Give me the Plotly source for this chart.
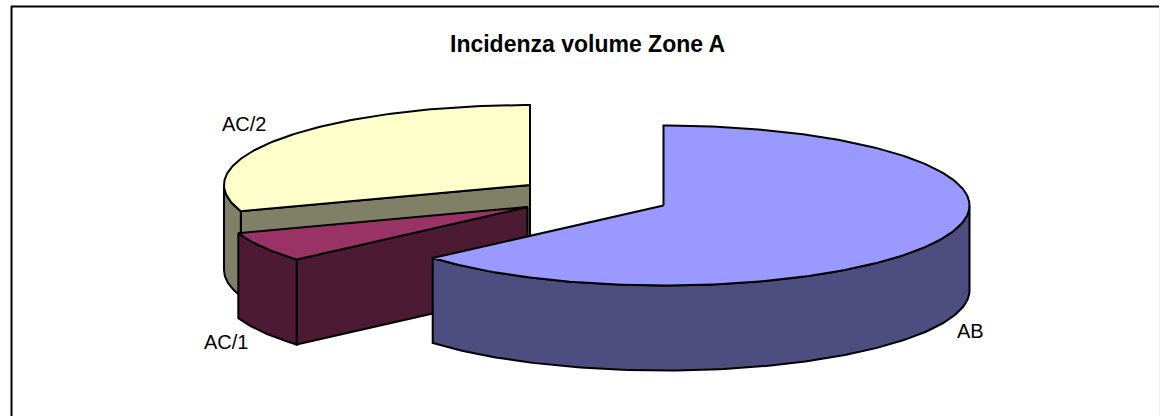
import math
import plotly.graph_objects as go

# ---- data ----
categories = ["AB", "AC/1", "AC/2"]
values = [63.6, 6.1, 30.3]
title_text = "Incidenza volume Zone A"

# ---- style / layout of the exploded 3-D pie (pixel-like axis units) ----
W, H = 1160, 416
RX, RY, DEPTH = 306, 80, 85
centers = {"AB": (663.5, 205.5), "AC/1": (527.5, 207), "AC/2": (530, 185)}
top_colors = {"AB": "#9999FF", "AC/1": "#993366", "AC/2": "#FFFFCC"}
side_colors = {"AB": "#4D4D80", "AC/1": "#4D1A33", "AC/2": "#808066"}
label_pos = {"AB": (970, 331), "AC/1": (226, 342), "AC/2": (244, 124)}
LINE = dict(color="#000000", width=2)


def pt(c, t, dz=0):
    a = math.radians(t)
    return (c[0] + RX * math.sin(a), c[1] - RY * math.cos(a) + dz)


def arc(c, t0, t1, dz=0, step=1.0):
    n = max(2, int(abs(t1 - t0) / step) + 1)
    return [pt(c, t0 + (t1 - t0) * i / (n - 1), dz) for i in range(n)]


def poly(points, color):
    fig.add_trace(go.Scatter(
        x=[p[0] for p in points] + [points[0][0]],
        y=[p[1] for p in points] + [points[0][1]],
        mode="lines", fill="toself", fillcolor=color, line=LINE,
        hoverinfo="skip", showlegend=False))


# start/end angles from the values, clockwise from 12 o'clock
total = sum(values)
angles = {}
acc = 0.0
for name, v in zip(categories, values):
    angles[name] = (acc, acc + v / total * 360)
    acc += v / total * 360

fig = go.Figure()

# back to front: AC/2, AC/1, AB
for name in ["AC/2", "AC/1", "AB"]:
    c = centers[name]
    t0, t1 = angles[name]
    top = [c] + arc(c, t0, t1)
    # visible part of the outer rim: front half of the ellipse (90..270 deg)
    r0, r1 = max(t0, 90), min(t1, 270)
    # inner wall facing the viewer (the cut whose rim point is on the lower left)
    if 180 < t0 < 270:
        e = pt(c, t0)
        poly([c, e, (e[0], e[1] + DEPTH), (c[0], c[1] + DEPTH)], side_colors[name])
    poly(arc(c, r0, r1) + arc(c, r1, r0, DEPTH), side_colors[name])
    poly(top, top_colors[name])

# frame
shapes = [
    dict(type="line", x0=11.5, x1=11.5, y0=6, y1=H, line=dict(color="#000000", width=2)),
    dict(type="line", x0=11, x1=W - 1, y0=6.5, y1=6.5, line=dict(color="#000000", width=2)),
    dict(type="line", x0=W - 0.5, x1=W - 0.5, y0=6, y1=H, line=dict(color="#F0F0F0", width=1)),
]

annotations = [
    dict(x=587, y=44, text="<b>%s</b>" % title_text, showarrow=False,
         font=dict(family="Liberation Sans", size=23, color="#000000")),
]
for name in categories:
    x, y = label_pos[name]
    annotations.append(dict(x=x, y=y, text=name, showarrow=False,
                            font=dict(family="Liberation Sans", size=20, color="#000000")))

fig.update_layout(
    width=W, height=H, margin=dict(l=0, r=0, t=0, b=0),
    paper_bgcolor="#FFFFFF", plot_bgcolor="#FFFFFF", showlegend=False,
    xaxis=dict(range=[0, W], visible=False, fixedrange=True),
    yaxis=dict(range=[H, 0], visible=False, fixedrange=True),
    shapes=shapes, annotations=annotations,
)
fig.write_html("out.html", config={"displayModeBar": False},
               post_script="document.documentElement.style.overflow='hidden';document.body.style.margin='0';")
